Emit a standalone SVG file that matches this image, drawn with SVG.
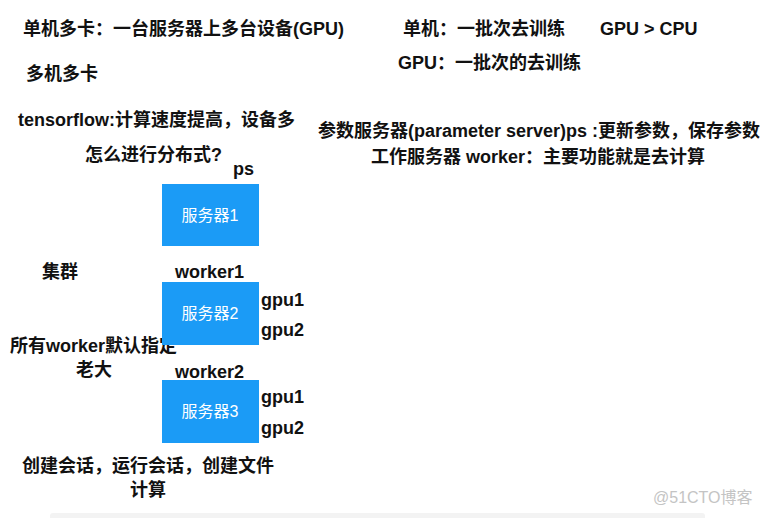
<svg xmlns="http://www.w3.org/2000/svg" width="763" height="518" viewBox="0 0 763 518">
<style>
.t{font-family:"Liberation Sans","Noto Sans CJK SC",sans-serif;font-weight:bold;font-size:18px;fill:#111}
.b{fill:#1B9BF6}
.bl{font-family:"Liberation Sans","Noto Sans CJK SC",sans-serif;font-size:16px;fill:#fff;text-anchor:middle}
.wm{font-family:"Liberation Sans","Noto Sans CJK SC",sans-serif;font-size:16px;fill:#c4c4c4}
</style>
<rect width="763" height="518" fill="#fff"/>
<rect x="50" y="513" width="655" height="8" rx="3" fill="#f3f3f3"/>
<g id="notes">
<text class="t" x="23" y="35">单机多卡：一台服务器上多台设备(GPU)</text>
<text class="t" x="26" y="80">多机多卡</text>
<text class="t" x="403" y="35">单机：一批次去训练</text>
<text class="t" x="600" y="35">GPU &gt; CPU</text>
<text class="t" x="398" y="69">GPU：一批次的去训练</text>
<text class="t" x="18" y="126">tensorflow:计算速度提高，设备多</text>
<text class="t" x="85" y="161">怎么进行分布式?</text>
<text class="t" x="318" y="137">参数服务器(parameter server)ps :更新参数，保存参数</text>
<text class="t" x="371" y="163">工作服务器 worker：主要功能就是去计算</text>
<text class="t" x="42" y="278">集群</text>
<text class="t" x="10" y="352">所有worker默认指定</text>
<text class="t" x="76" y="376">老大</text>
<text class="t" x="22" y="472">创建会话，运行会话，创建文件</text>
<text class="t" x="130" y="496">计算</text>
</g>
<g id="server1">
<text class="t" x="233" y="175">ps</text>
<rect class="b" x="162" y="184" width="97" height="62"/>
<text class="bl" x="210" y="221">服务器1</text>
</g>
<g id="server2">
<text class="t" x="175" y="278">worker1</text>
<rect class="b" x="162" y="282" width="97" height="63"/>
<text class="bl" x="210" y="319">服务器2</text>
<text class="t" x="261" y="306">gpu1</text>
<text class="t" x="261" y="336">gpu2</text>
</g>
<g id="server3">
<text class="t" x="175" y="378">worker2</text>
<rect class="b" x="162" y="380" width="97" height="63"/>
<text class="bl" x="210" y="417">服务器3</text>
<text class="t" x="261" y="403">gpu1</text>
<text class="t" x="261" y="434">gpu2</text>
</g>
<g id="connectors"/>
<text class="wm" x="653" y="503">@51CTO博客</text>
</svg>
